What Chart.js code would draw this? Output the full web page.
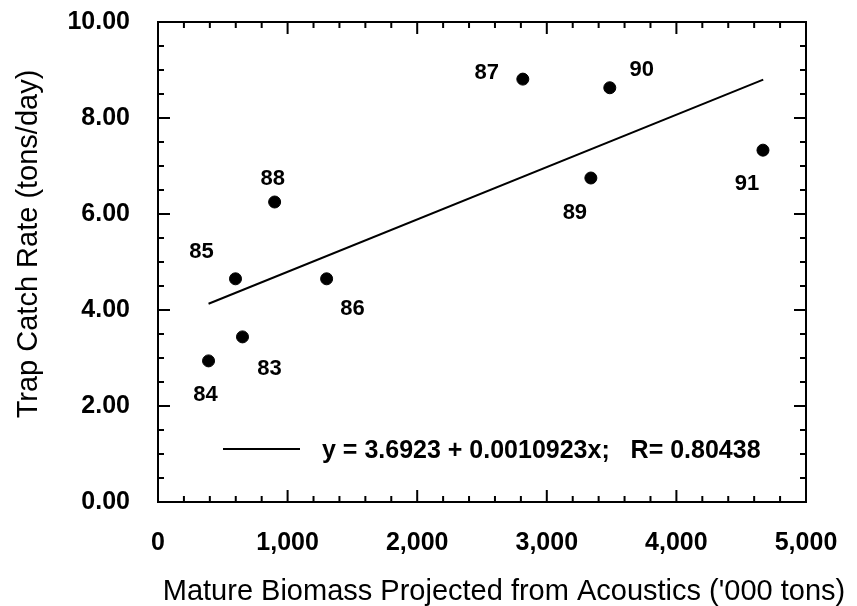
<!DOCTYPE html>
<html>
<head>
<meta charset="utf-8">
<script src="https://cdn.jsdelivr.net/npm/chart.js@4"></script>
<style>
  html, body { margin: 0; padding: 0; background: #fff; }
  canvas { display: block; }
</style>
</head>
<body>
<canvas id="trapChart" width="857" height="606"></canvas>
<script>
// data
const years = ['83', '84', '85', '86', '87', '88', '89', '90', '91'];
const biomass = [652, 390, 598, 1301, 2815, 900, 3340, 3486, 4668];
const catchRate = [3.44, 2.94, 4.65, 4.65, 8.81, 6.25, 6.75, 8.63, 7.33];
const fitX = [390, 4670];
const fitY = [4.13, 8.80];
const xTickValues = [0, 1000, 2000, 3000, 4000, 5000];
const yTickValues = [0, 2, 4, 6, 8, 10];
const fitLabel = 'y = 3.6923 + 0.0010923x;   R= 0.80438';

// where each year label sits relative to its dot (px)
const labelOffsets = {
    '83': [27, 30], '84': [-3, 32], '85': [-34, -29], '86': [26, 28],
    '87': [-36, -8], '88': [-2, -25], '89': [-16, 33], '90': [32, -20], '91': [-16, 32]
};

const FONT = "'Liberation Sans', Arial, Helvetica, sans-serif";

const framePlugin = {
    id: 'frame',
    afterDraw(chart) {
        const ctx = chart.ctx;
        const area = chart.chartArea;
        const xs = chart.scales.x;
        const ys = chart.scales.y;
        ctx.save();
        ctx.strokeStyle = '#000';
        ctx.lineWidth = 2;
        ctx.strokeRect(area.left, area.top, area.right - area.left, area.bottom - area.top);

        // inward ticks on all four sides
        ctx.beginPath();
        for (let v = 0; v <= 5000; v += 200) {
            const px = xs.getPixelForValue(v);
            const len = v % 1000 === 0 ? 12 : 6;
            ctx.moveTo(px, area.bottom); ctx.lineTo(px, area.bottom - len);
            ctx.moveTo(px, area.top); ctx.lineTo(px, area.top + len);
        }
        for (let v = 0; v <= 10; v += 0.5) {
            const py = ys.getPixelForValue(v);
            const len = v % 2 === 0 ? 12 : 6;
            ctx.moveTo(area.left, py); ctx.lineTo(area.left + len, py);
            ctx.moveTo(area.right, py); ctx.lineTo(area.right - len, py);
        }
        ctx.stroke();

        // year labels next to the dots
        ctx.fillStyle = '#000';
        ctx.font = 'bold 22px ' + FONT;
        ctx.textAlign = 'center';
        ctx.textBaseline = 'alphabetic';
        const meta = chart.getDatasetMeta(0);
        meta.data.forEach((pt, i) => {
            const off = labelOffsets[years[i]];
            ctx.fillText(years[i], pt.x + off[0], pt.y + off[1] + 8);
        });

        // legend inside the plot
        ctx.beginPath();
        ctx.moveTo(223, 449); ctx.lineTo(300, 449);
        ctx.stroke();
        ctx.font = 'bold 25px ' + FONT;
        ctx.textAlign = 'left';
        ctx.fillText(chart.data.datasets[1].label, 322, 449 + 9);

        // axis titles
        ctx.font = '29px ' + FONT;
        ctx.textAlign = 'center';
        ctx.fillText('Mature Biomass Projected from Acoustics (\'000 tons)', 504, 590 + 10);
        ctx.translate(27, 244);
        ctx.rotate(-Math.PI / 2);
        ctx.fillText('Trap Catch Rate (tons/day)', 0, 10);
        ctx.restore();
    }
};

const ctx = document.getElementById('trapChart').getContext('2d');
const chart = new Chart(ctx, {
    type: 'scatter',
    data: {
        datasets: [
            {
                label: 'Trap catch',
                data: biomass.map((b, i) => ({ x: b, y: catchRate[i] })),
                backgroundColor: '#000',
                borderColor: '#000',
                pointRadius: 6,
                borderWidth: 1
            },
            {
                label: fitLabel,
                type: 'line',
                data: fitX.map((b, i) => ({ x: b, y: fitY[i] })),
                borderColor: '#000',
                borderWidth: 2,
                pointRadius: 0,
                fill: false
            }
        ]
    },
    options: {
        responsive: false,
        animation: false,
        layout: { padding: { top: 22, right: 51, left: 0, bottom: 0 } },
        plugins: {
            legend: { display: false },
            tooltip: { enabled: false }
        },
        scales: {
            x: {
                type: 'linear',
                min: 0,
                max: 5000,
                afterBuildTicks: s => { s.ticks = xTickValues.map(v => ({ value: v })); },
                afterFit: s => { s.height = 104; s.paddingLeft = 0; s.paddingRight = 0; },
                grid: { display: false, drawTicks: false },
                border: { display: false },
                ticks: {
                    color: '#000',
                    padding: 26,
                    maxRotation: 0,
                    font: { family: FONT, size: 25, weight: 'bold' },
                    callback: v => v.toLocaleString('en-US')
                }
            },
            y: {
                type: 'linear',
                min: 0,
                max: 10,
                afterBuildTicks: s => { s.ticks = yTickValues.map(v => ({ value: v })); },
                afterFit: s => { s.width = 158; s.paddingTop = 0; s.paddingBottom = 0; },
                grid: { display: false, drawTicks: false },
                border: { display: false },
                ticks: {
                    color: '#000',
                    padding: 28,
                    font: { family: FONT, size: 25, weight: 'bold' },
                    callback: v => v.toFixed(2)
                }
            }
        }
    },
    plugins: [framePlugin]
});
</script>
</body>
</html>
